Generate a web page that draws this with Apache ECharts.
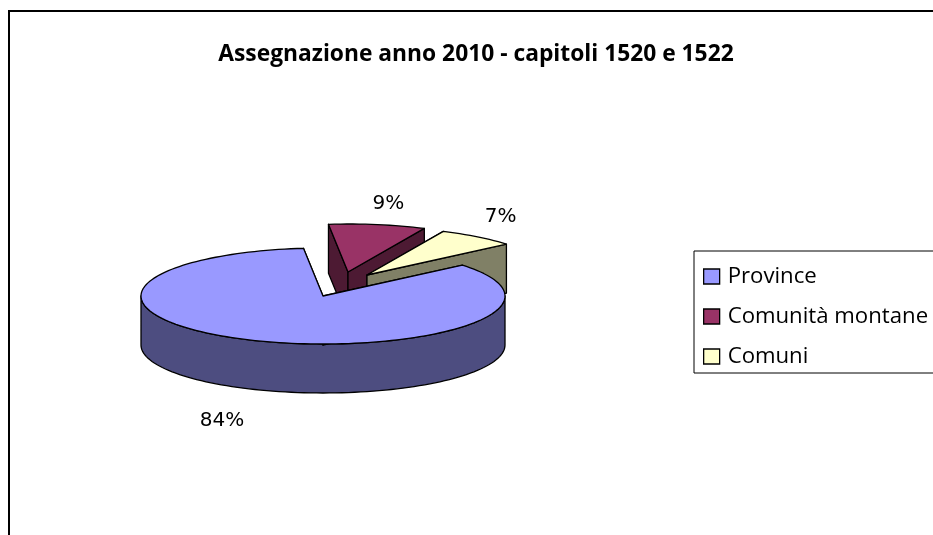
<!DOCTYPE html>
<html>
<head>
<meta charset="utf-8">
<style>
  html, body { margin: 0; padding: 0; background: #fff; overflow: hidden; }
  #chart { width: 933px; height: 535px; }
</style>
</head>
<body>
<div id="chart"></div>
<script src="https://cdn.jsdelivr.net/npm/echarts@6/dist/echarts.min.js"></script>
<script>
const titleText = 'Assegnazione anno 2010 - capitoli 1520 e 1522';
const categories = ['Province', 'Comunità montane', 'Comuni'];
const shares = [84.4, 8.6, 7.0];
const topColors = ['#9999FF', '#993366', '#FFFFCC'];
const sideColors = ['#4D4D80', '#4D1A33', '#808066'];

// pie geometry in page pixels, angles are clockwise from 12 o'clock
const pie = { cx: 323, cy: 296, rx: 182, ry: 48, depth: 49, firstAngle: 50 };
const explode = [[0, 0], [25, -24], [44, -21]];
const labelNudge = [[-33, 31], [11, -21], [23, -20]];

const total = shares.reduce((a, b) => a + b, 0);
const chart = echarts.init(document.getElementById('chart'));

function rimPoint(deg, ox, oy, drop) {
  const a = deg * Math.PI / 180;
  return [pie.cx + ox + pie.rx * Math.sin(a), pie.cy + oy + drop - pie.ry * Math.cos(a)];
}

function arcPoints(from, to, ox, oy, drop) {
  const pts = [];
  const steps = Math.max(2, Math.ceil((to - from) / 2));
  for (let i = 0; i <= steps; i++) {
    pts.push(rimPoint(from + (to - from) * i / steps, ox, oy, drop));
  }
  return pts;
}

function makeRenderItem(idx) {
  return function (params, api) {
    const value = api.value(0);
    let start = pie.firstAngle;
    for (let i = 0; i < idx; i++) start += shares[i] / total * 360;
    const end = start + value / total * 360;
    const ox = explode[idx][0];
    const oy = explode[idx][1];
    const apex = [pie.cx + ox, pie.cy + oy];
    const apexLow = [apex[0], apex[1] + pie.depth];
    const line = { stroke: '#000', lineWidth: 1.3, lineJoin: 'round' };
    const side = { ...line, fill: sideColors[idx] };
    const children = [];

    // outer wall, only the part that faces the viewer
    const wallFrom = Math.max(start, 90);
    const wallTo = Math.min(end, 270);
    if (wallTo > wallFrom) {
      const upper = arcPoints(wallFrom, wallTo, ox, oy, 0);
      const lower = arcPoints(wallFrom, wallTo, ox, oy, pie.depth).reverse();
      children.push({ type: 'polygon', shape: { points: upper.concat(lower) }, style: side });
    }
    // the two cut walls
    [start, end].forEach(function (deg) {
      children.push({
        type: 'polygon',
        shape: { points: [apex, rimPoint(deg, ox, oy, 0), rimPoint(deg, ox, oy, pie.depth), apexLow] },
        style: side
      });
    });
    // top face
    children.push({
      type: 'polygon',
      shape: { points: [apex].concat(arcPoints(start, end, ox, oy, 0)) },
      style: { ...line, fill: topColors[idx] }
    });
    // percent label, outside the rim at the middle of the slice
    const mid = (start + end) / 2;
    const front = mid > 90 && mid < 270;
    const anchor = rimPoint(mid, ox, oy, front ? pie.depth : 0);
    children.push({
      type: 'text',
      x: anchor[0] + labelNudge[idx][0],
      y: anchor[1] + labelNudge[idx][1],
      style: {
        text: Math.round(value / total * 100) + '%',
        fill: '#000',
        font: '20px "DejaVu Sans"',
        textAlign: 'center',
        textVerticalAlign: 'middle'
      }
    });
    return { type: 'group', children: children };
  };
}

// back slices are painted first so the big front slice covers them
const paintOrder = [1, 2, 0];

chart.setOption({
  animation: false,
  backgroundColor: '#fff',
  title: {
    text: titleText,
    left: 471,
    top: 38,
    textAlign: 'center',
    textStyle: { fontFamily: 'Open Sans', fontWeight: 'bold', fontSize: 22.8, color: '#000' }
  },
  legend: {
    orient: 'vertical',
    left: 694,
    top: 251,
    data: categories,
    icon: 'rect',
    itemWidth: 16,
    itemHeight: 15,
    itemGap: 15,
    padding: [13, 20, 4, 9],
    borderColor: '#000',
    borderWidth: 1,
    backgroundColor: '#fff',
    selectedMode: false,
    itemStyle: { borderColor: '#000', borderWidth: 1.3 },
    textStyle: { fontFamily: 'Open Sans', fontSize: 22.2, color: '#000', padding: [3, 0, 0, 3], height: 22, lineHeight: 22 }
  },
  graphic: [{
    type: 'rect',
    silent: true,
    z: -1,
    shape: { x: 9, y: 11, width: 1000, height: 600 },
    style: { fill: 'none', stroke: '#000', lineWidth: 2 }
  }],
  series: paintOrder.map(function (idx) {
    return {
      type: 'custom',
      name: categories[idx],
      coordinateSystem: 'none',
      silent: true,
      itemStyle: { color: topColors[idx] },
      renderItem: makeRenderItem(idx),
      data: [[shares[idx]]]
    };
  })
});
</script>
</body>
</html>
